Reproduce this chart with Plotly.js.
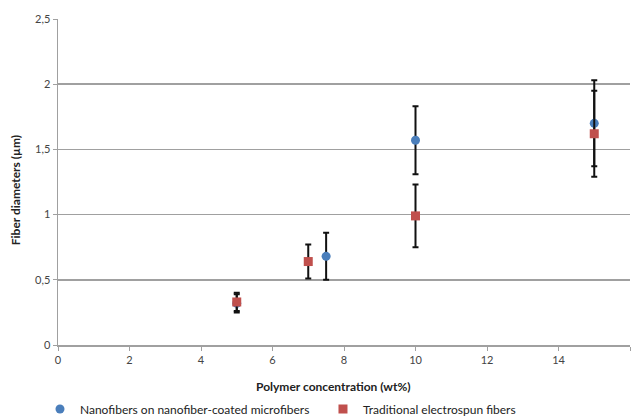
<!DOCTYPE html>
<html><head><meta charset="utf-8">
<script src="https://cdn.plot.ly/plotly-3.0.1.min.js"></script>
<style>body{margin:0;background:#fff}#c{width:632px;height:420px}</style>
</head><body><div id="c"></div>
<script>
const seriesNames = ["Nanofibers on nanofiber-coated microfibers", "Traditional electrospun fibers"];
const xNano = [5, 7.5, 10, 15];
const yNano = [0.32, 0.68, 1.57, 1.70];
const errNano = [0.07, 0.18, 0.26, 0.33];
const xTrad = [5, 7, 10, 15];
const yTrad = [0.33, 0.64, 0.99, 1.62];
const errTrad = [0.07, 0.13, 0.24, 0.33];
const xTicks = [0, 2, 4, 6, 8, 10, 12, 14, 16];
const yTicks = [0, 0.5, 1, 1.5, 2, 2.5];
const yTickText = ["0", "0,5", "1", "1,5", "2", "2,5"];
const xTitle = "Polymer concentration (wt%)";
const yTitle = "Fiber diameters (µm)";

const font = "Lato, Open Sans, sans-serif";
const traces = [
  {x: xNano, y: yNano, name: seriesNames[0], type: "scatter", mode: "markers",
   marker: {symbol: "circle", size: 9, color: "#4a7ebb"},
   error_y: {type: "data", array: errNano, visible: true, color: "#111", thickness: 2, width: 3}},
  {x: xTrad, y: yTrad, name: seriesNames[1], type: "scatter", mode: "markers",
   marker: {symbol: "square", size: 9, color: "#c0504d"},
   error_y: {type: "data", array: errTrad, visible: true, color: "#111", thickness: 2, width: 3}}
];
const titleFont = {family: font, size: 12, color: "#222", weight: "bold"};
const layout = {
  width: 632, height: 420,
  margin: {l: 58, r: 2, t: 19, b: 75, autoexpand: false},
  paper_bgcolor: "#fff", plot_bgcolor: "#fff",
  separators: ", ",
  font: {family: font, size: 11, color: "#444"},
  showlegend: true,
  legend: {orientation: "h", x: -0.0315, y: -0.152, xanchor: "left", yanchor: "top",
           font: {size: 12, color: "#222"}, itemwidth: 30, entrywidth: 238, traceorder: "normal"},
  xaxis: {range: [0, 16], tickvals: xTicks, ticktext: xTicks.map(String), automargin: false,
          showgrid: false, zeroline: false, showline: true, linecolor: "#a0a0a0", linewidth: 1.5,
          ticks: "outside", ticklen: 4, tickcolor: "#a0a0a0", tickfont: {size: 11, color: "#444"}},
  yaxis: {range: [0, 2.5], tickvals: yTicks, ticktext: yTickText, automargin: false,
          showgrid: true, gridcolor: "#a0a0a0", gridwidth: 1.5, zeroline: false,
          showline: true, linecolor: "#a0a0a0", linewidth: 1.5,
          ticks: "outside", ticklen: 4, tickcolor: "#a0a0a0", tickfont: {size: 11, color: "#444"}},
  annotations: [
    {text: xTitle, xref: "paper", yref: "paper", x: 0.4825, y: -0.126, xanchor: "center", yanchor: "middle",
     showarrow: false, font: titleFont},
    {text: yTitle, xref: "paper", yref: "paper", x: -0.075, y: 0.475, xanchor: "center", yanchor: "middle",
     textangle: -90, showarrow: false, font: titleFont}
  ]
};
Plotly.newPlot("c", traces, layout, {displayModeBar: false, staticPlot: true});
</script></body></html>
